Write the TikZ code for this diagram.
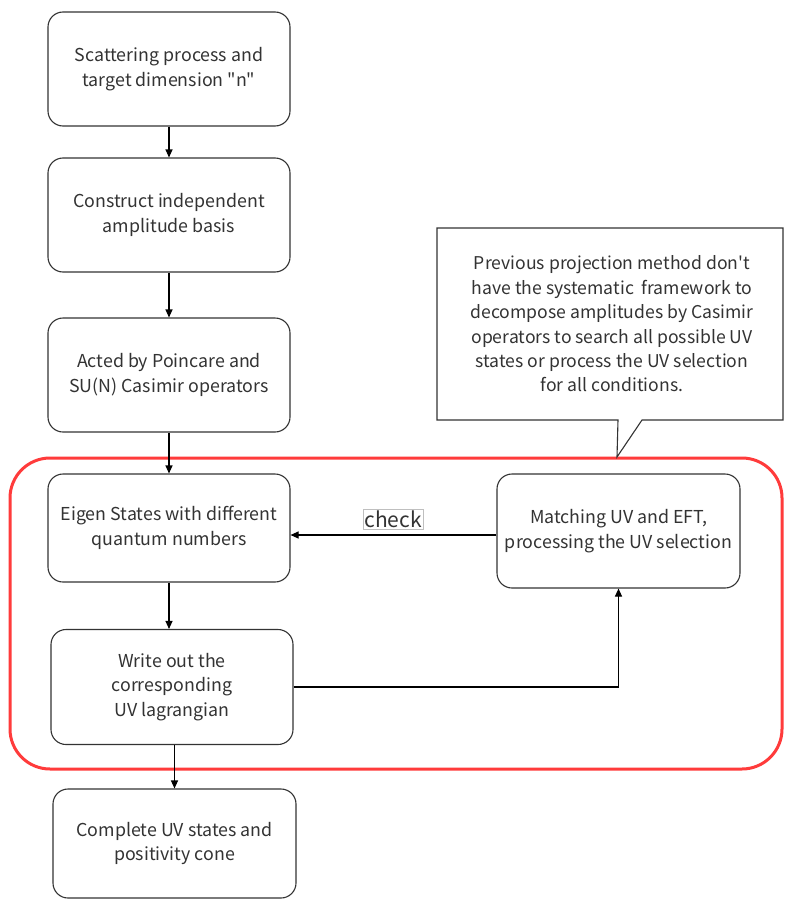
\documentclass[tikz,border=0pt]{standalone}
\usepackage{fontspec}
\setmainfont{Noto Sans CJK SC}[Ligatures=TeXOff]
\usetikzlibrary{arrows.meta,calc}
\definecolor{redframe}{HTML}{FF3B3B}
\definecolor{txt}{HTML}{333333}
\begin{document}
\begin{tikzpicture}[x=1pt,y=-1pt,
  box/.style={draw=black!80, line width=1.1pt, rounded corners=15pt, fill=white,
    align=center, text=txt, font=\fontsize{17.8}{24.5}\selectfont, inner sep=0pt,
    minimum width=242pt},
  arr/.style={draw=black, line width=1.1pt, -{Triangle[length=8pt,width=7pt]}},
  line/.style={draw=black!80, line width=1.1pt},
]
\useasboundingbox (0,0) rectangle (784,899);
\fill[white] (0,0) rectangle (784,899);

% red frame
\draw[redframe, line width=3pt, rounded corners=40pt] (10,458) rectangle (782,769);

% callout
\draw[line, fill=white] (437,228) -- (783,228) -- (783,420) -- (642,420) -- (617,457) -- (618,420) -- (437,420) -- cycle;
\node[align=center, text=txt, font=\fontsize{17.6}{24.4}\selectfont] (note) at (612,324)
  {Previous projection method don't\\have the systematic\ \ framework to\\decompose amplitudes by Casimir\\operators to search all possible UV\\states or process the UV selection\\for all conditions.};

% boxes
\node[box, minimum height=114pt] (b1) at (169,69) {Scattering process and\\target dimension "n"};
\node[box, minimum height=114pt] (b2) at (169,215) {Construct independent\\amplitude basis};
\node[box, minimum height=114pt] (b3) at (169,375) {Acted by Poincare and\\SU(N) Casimir operators};
\node[box, minimum height=108pt] (b4) at (169,528) {Eigen States with different\\quantum numbers};
\node[box, minimum height=115pt] (b5) at (172,687) {Write out the\\corresponding\\UV lagrangian};
\node[box, minimum height=109pt, minimum width=243pt] (b6) at (174.5,843.5) {Complete UV states and\\positivity cone};
\node[box, minimum height=114pt, minimum width=243pt] (rb) at (618.5,531) {Matching UV and EFT,\\processing the UV selection};

% connectors
\draw[arr] (b1) -- (b2);
\draw[arr] (b2) -- (b3);
\draw[arr] (b3) -- (b4);
\draw[arr] (b4.south) -- (b4.south |- b5.north);
\draw[arr] (b5.south -| b6.north) -- (b6.north);
\coordinate (c1) at ([yshift=-4pt]rb.west);
\draw[arr] (c1) -- (c1 -| b4.east);
\node[draw=black!25, line width=0.6pt, inner sep=1.5pt, text=txt, font=\fontsize{21}{24}\selectfont] (chk) at (393,519) {check};
\draw[arr] (b5.east) -- (b5.east -| rb.south) -- (rb.south);
\end{tikzpicture}
\end{document}
